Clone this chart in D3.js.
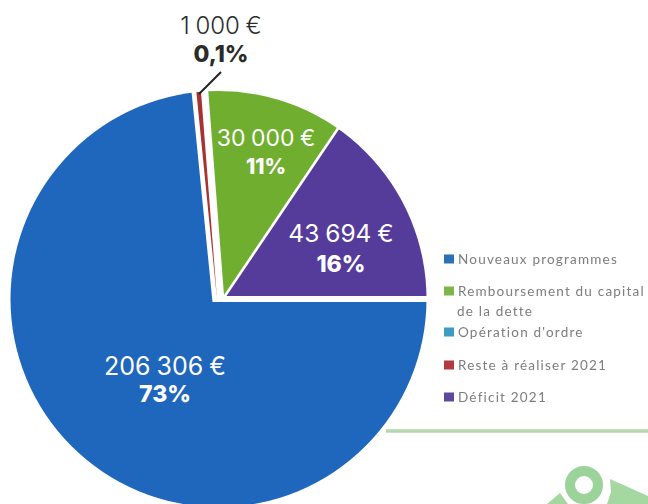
<!DOCTYPE html>
<html><head><meta charset="utf-8">
<script src="https://cdn.jsdelivr.net/npm/d3@7/dist/d3.min.js"></script>
<style>html,body{margin:0;padding:0;background:#fff}svg{display:block}</style>
</head><body><svg id="c" width="648" height="504"></svg>
<script>
const categories=["Nouveaux programmes","Reste à réaliser 2021","Remboursement du capital de la dette","Déficit 2021"];
const values=[206306,1000,30000,43694];
const amountLabels=["206 306 €","1 000 €","30 000 €","43 694 €"];
const percentLabels=["73%","0,1%","11%","16%"];
const sliceColors=["#1f66bd","#a8322f","#6fae2e","#553c9a"];
const sliceOffsets=[[-6,3],[-1.5,0],[5.5,-4],[8,-3]];
const legendLines=[["Nouveaux programmes"],["Remboursement du capital","de la dette"],["Opération d'ordre"],["Reste à réaliser 2021"],["Déficit 2021"]];
const legendColors=["#2f6fb8","#7ab648","#3d9cc4","#b23a42","#5b4a9e"];

const svg=d3.select("#c");
const font="Inter, Lato, sans-serif";
const legendFont="Lato, 'Open Sans', sans-serif";
const cx=218.5,cy=299,R=208;
const defs=svg.append("defs");
defs.append("clipPath").attr("id","disc").append("circle").attr("cx",cx).attr("cy",cy).attr("r",R);
defs.append("filter").attr("id","b").append("feGaussianBlur").attr("stdDeviation",0.55);
const g=svg.append("g").attr("clip-path","url(#disc)");
const pie=d3.pie().sort(null).startAngle(Math.PI/2).endAngle(Math.PI*2.5);
const arc=d3.arc().innerRadius(0).outerRadius(R+20);
const arcs=pie(values);
g.selectAll("path").data(arcs).join("path").attr("d",arc)
 .attr("transform",(d,i)=>`translate(${cx+sliceOffsets[i][0]},${cy+sliceOffsets[i][1]})`)
 .attr("fill",(d,i)=>sliceColors[i]);

// leader line for the thin slice
const lead=d3.line();
svg.append("path").attr("d",lead([[199,94],[221,72]]))
 .attr("stroke","#222").attr("stroke-width",2).attr("fill","none");

// value labels
const labelPos=[[165,375,402],[221,34,62],[266,146,174],[341,242,272]];
const labelFill=["#fff","#2b2b2b","#fff","#fff"];
const labelSize=[25,24,23,24.5];
const labelWeight=[400,300,400,400];
labelPos.forEach((p,i)=>{
  svg.append("text").attr("x",p[0]).attr("y",p[1]).attr("text-anchor","middle")
    .attr("font-family",font).attr("font-weight",labelWeight[i]).attr("font-size",labelSize[i]).attr("word-spacing",-1).attr("fill",labelFill[i]).text(amountLabels[i]);
  svg.append("text").attr("x",p[0]).attr("y",p[2]).attr("text-anchor","middle")
    .attr("font-family",font).attr("font-weight",800).attr("font-size",i==2?21:23).attr("fill",labelFill[i]).text(percentLabels[i]);
});

// legend
const legendY=[259,291,332,365,397];
const lg=svg.append("g").attr("filter","url(#b)");
legendLines.forEach((lines,i)=>{
  lg.append("rect").attr("x",444).attr("y",legendY[i]-4.5).attr("width",10).attr("height",9).attr("fill",legendColors[i]);
  lines.forEach((t,j)=>{
    lg.append("text").attr("x",j?457:458).attr("y",legendY[i]+4.5+j*20).attr("font-family",legendFont)
      .attr("font-size",13.5).attr("letter-spacing",1.2).attr("fill","#7d7d7d").text(t);
  });
});

// footer decoration
svg.append("line").attr("x1",386).attr("x2",648).attr("y1",431).attr("y2",431).attr("stroke","#b6d9ac").attr("stroke-width",3.5);
svg.append("circle").attr("cx",584).attr("cy",485).attr("r",14).attr("fill","none").attr("stroke","#9bd39b").attr("stroke-width",10);
svg.append("polygon").attr("points","610,479 648,496 648,504 607,504 611,492").attr("fill","#a5d8a0");
svg.append("polygon").attr("points","547,504 560,493 568,504").attr("fill","#a5d8a0");
</script></body></html>
